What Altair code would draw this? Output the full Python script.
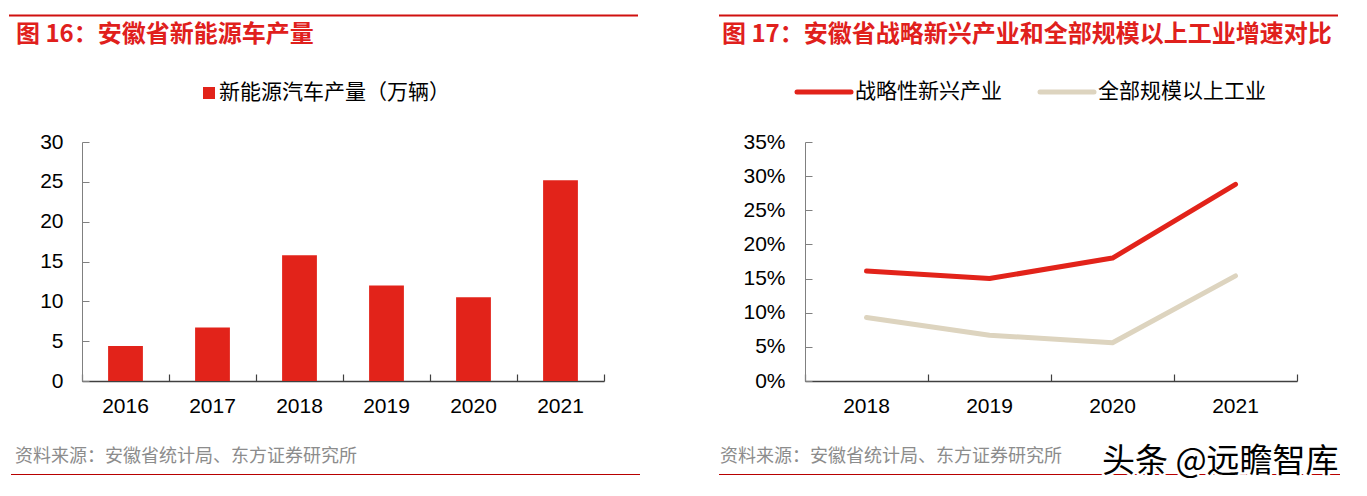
import altair as alt
import pandas as pd

# ---------------- data ----------------
title_left = "图 16：安徽省新能源车产量"
title_right = "图 17：安徽省战略新兴产业和全部规模以上工业增速对比"
legend_left = "新能源汽车产量（万辆）"
series_names = ["战略性新兴产业", "全部规模以上工业"]
source_text = "资料来源：安徽省统计局、东方证券研究所"
watermark = "头条 @远瞻智库"

years_bar = ["2016", "2017", "2018", "2019", "2020", "2021"]
nev_output = [4.4, 6.7, 15.8, 12.0, 10.5, 25.2]

years_line = ["2018", "2019", "2020", "2021"]
strategic_growth = [0.161, 0.150, 0.180, 0.288]
industry_growth = [0.093, 0.067, 0.056, 0.154]

y_ticks_left = [0, 5, 10, 15, 20, 25, 30]
y_ticks_right = [0, 0.05, 0.10, 0.15, 0.20, 0.25, 0.30, 0.35]

# ---------------- style ----------------
RED = "#E2231A"
BEIGE = "#DDD4BF"
RULE_RED = "#D0100F"
BOTTOM_RED = "#B80000"
TITLE_RED = "#E0201C"
GRAY_TXT = "#8C8C8C"
CJK = "Noto Sans CJK SC"
NUM = "Liberation Sans"

W1, W2, H = 522, 492, 239


def txt(s, x, y, size, color, weight="normal", font=CJK, align="left", **kw):
    return alt.Chart(pd.DataFrame({"t": [s]})).mark_text(
        align=align, baseline="middle", fontSize=size, font=font,
        fontWeight=weight, color=color, **kw
    ).encode(x=alt.value(x), y=alt.value(y), text="t:N")


def rule(x1, x2, y, color, w, cap="butt"):
    return alt.Chart(pd.DataFrame({"a": [0]})).mark_rule(
        color=color, strokeWidth=w, strokeCap=cap
    ).encode(x=alt.value(x1), x2=alt.value(x2), y=alt.value(y))


# ---------------- left panel ----------------
df1 = pd.DataFrame({"year": years_bar, "value": nev_output})
xsc1 = alt.Scale(type="band", paddingInner=0, paddingOuter=0)
ysc1 = alt.Scale(domain=[0, 30], nice=False)

bars = alt.Chart(df1).mark_bar(color=RED, width=alt.RelativeBandSize(0.4)).encode(
    x=alt.X("year:N", scale=xsc1, sort=years_bar,
            axis=alt.Axis(orient="bottom", title=None, labelAngle=0, ticks=False,
                          tickSize=0, domainColor="#404040", domainWidth=1.5,
                          labelFont=NUM, labelFontSize=21, labelColor="black",
                          labelPadding=14, grid=False)),
    y=alt.Y("value:Q", scale=ysc1,
            axis=alt.Axis(orient="left", title=None, values=y_ticks_left, ticks=False,
                          tickSize=0, domainColor="#808080", domainWidth=1,
                          labelFont=NUM, labelFontSize=21, labelColor="black",
                          labelPadding=19, grid=False)),
)
bar_ticks = alt.Chart(df1).mark_bar(opacity=0).encode(
    x=alt.X("year:N", scale=xsc1, sort=years_bar,
            axis=alt.Axis(orient="top", offset=-H, title=None, labels=False, domain=False,
                          ticks=True, tickSize=7, tickBand="extent", tickColor="#404040",
                          tickWidth=1.2, grid=False)),
    y=alt.Y("value:Q", scale=ysc1,
            axis=alt.Axis(orient="right", offset=-W1, title=None, labels=False, domain=False,
                          values=y_ticks_left, ticks=True, tickSize=7, tickColor="#808080",
                          grid=False)),
)

left = alt.layer(
    bars, bar_ticks,
    rule(-73, 556, -126.5, RULE_RED, 2),
    txt(title_left, -66, -107, 24, TITLE_RED, weight="bold"),
    alt.Chart(pd.DataFrame({"a": [0]})).mark_square(size=144, color=RED, opacity=1).encode(
        x=alt.value(127), y=alt.value(-49)),
    txt(legend_left, 137, -49, 21, "black"),
    txt(source_text, -67, 315, 18, GRAY_TXT),
    rule(-71, 558, 332.5, BOTTOM_RED, 1),
).resolve_axis(x="independent", y="independent").properties(width=W1, height=H)

# ---------------- right panel ----------------
df2 = pd.DataFrame({
    "year": years_line * 2,
    "series": [series_names[0]] * 4 + [series_names[1]] * 4,
    "value": strategic_growth + industry_growth,
})
xsc2 = alt.Scale(type="band", paddingInner=0, paddingOuter=0)
ysc2 = alt.Scale(domain=[0, 0.35], nice=False)
csc = alt.Scale(domain=series_names, range=[RED, BEIGE])

lines = alt.Chart(df2).mark_line(strokeWidth=5, strokeCap="round", strokeJoin="round").encode(
    x=alt.X("year:N", scale=xsc2, sort=years_line, bandPosition=0.5,
            axis=alt.Axis(orient="bottom", title=None, labelAngle=0, ticks=False,
                          tickSize=0, domainColor="#404040", domainWidth=1.5,
                          labelFont=NUM, labelFontSize=21, labelColor="black",
                          labelPadding=14, grid=False)),
    y=alt.Y("value:Q", scale=ysc2,
            axis=alt.Axis(orient="left", title=None, values=y_ticks_right, format=".0%",
                          ticks=False, tickSize=0, domainColor="#808080", domainWidth=1,
                          labelFont=NUM, labelFontSize=21, labelColor="black",
                          labelPadding=20, grid=False)),
    color=alt.Color("series:N", scale=csc, legend=None),
)
line_ticks = alt.Chart(df2).mark_line(opacity=0).encode(
    x=alt.X("year:N", scale=xsc2, sort=years_line, bandPosition=0.5,
            axis=alt.Axis(orient="top", offset=-H, title=None, labels=False, domain=False,
                          ticks=True, tickSize=7, tickBand="extent", tickColor="#404040",
                          tickWidth=1.2, grid=False)),
    y=alt.Y("value:Q", scale=ysc2,
            axis=alt.Axis(orient="right", offset=-W2, title=None, labels=False, domain=False,
                          values=y_ticks_right, ticks=True, tickSize=7, tickColor="#808080",
                          grid=False)),
    detail="series:N",
)

right = alt.layer(
    lines, line_ticks,
    rule(-86, 533, -126.5, RULE_RED, 2),
    txt(title_right, -83, -107, 24, TITLE_RED, weight="bold"),
    rule(-8, 46, -50, RED, 5, cap="round"),
    txt(series_names[0], 50, -50, 21, "black"),
    rule(235, 289, -50, BEIGE, 5, cap="round"),
    txt(series_names[1], 293, -50, 21, "black"),
    txt(source_text, -85, 315, 18, GRAY_TXT),
    rule(-86, 535, 332.5, BOTTOM_RED, 1),
    txt(watermark, 297, 320, 33, "white", stroke="white", strokeWidth=5),
    txt(watermark, 297, 320, 33, "black"),
).resolve_axis(x="independent", y="independent").properties(width=W2, height=H)

chart = alt.hconcat(left, right, spacing=77).properties(
    padding={"left": 0, "top": 6, "right": 12, "bottom": 6}
).configure_view(stroke=None)

chart.save("out.html", embed_options={"renderer": "svg", "actions": False})
